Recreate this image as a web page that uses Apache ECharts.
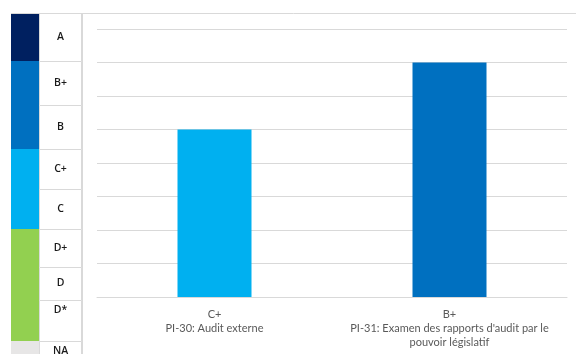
<!DOCTYPE html>
<html>
<head>
<meta charset="utf-8">
<script src="https://cdn.jsdelivr.net/npm/echarts@6/dist/echarts.min.js"></script>
<style>
  html, body { margin: 0; padding: 0; background: #ffffff; }
  #chart { width: 576px; height: 354px; }
</style>
</head>
<body>
<div id="chart"></div>
<script>
// Indicators and the grade each one received
const indicators = ['PI-30: Audit externe', "PI-31: Examen des rapports d'audit par le\npouvoir législatif"];
const grades = ['C+', 'B+'];

// Numeric score behind each grade (0.5 steps)
const gradeScores = { 'A': 4, 'B+': 3.5, 'B': 3, 'C+': 2.5, 'C': 2, 'D+': 1.5, 'D': 1 };
const scores = grades.map(g => gradeScores[g]);

// Grade key shown on the left
const keyGrades = ['A', 'B+', 'B', 'C+', 'C', 'D+', 'D', 'D*', 'NA'];
const keyRowHeights = [48, 44, 44, 40, 40, 38, 33, 41, 20];

// Value axis: 0 to 4, one gridline every half grade
const yMin = 0, yMax = 4, yStep = 0.5;

const groupColors = { A: '#002060', B: '#0070C0', C: '#00B0F0', D: '#92D050', N: '#E7E6E6' };
const colorOf = g => groupColors[g.charAt(0)];

const LABEL_FONT = 'Lato, "Open Sans", sans-serif';
const KEY_FONT = '"Open Sans", "Liberation Sans", sans-serif';
const GRID_GRAY = '#d9d9d9';

// cumulative row edges for the key
const rowEdges = [0];
keyRowHeights.forEach(h => rowEdges.push(rowEdges[rowEdges.length - 1] + h));

const chart = echarts.init(document.getElementById('chart'), null, { renderer: 'canvas' });

chart.setOption({
  animation: false,
  backgroundColor: '#ffffff',
  grid: [
    { left: 97, right: 9, top: 29, bottom: 57, containLabel: false },
    { left: 11, top: 13, width: 71, height: 341, containLabel: false }
  ],
  xAxis: [
    {
      type: 'category',
      gridIndex: 0,
      data: indicators,
      axisLine: { show: true, lineStyle: { color: GRID_GRAY, width: 1 } },
      axisTick: { show: false },
      axisLabel: {
        interval: 0,
        margin: 10,
        fontFamily: LABEL_FONT,
        fontSize: 11,
        lineHeight: 14,
        color: '#595959',
        align: 'center',
        formatter: (v, i) => grades[i] + '\n' + v
      },
      splitLine: { show: false }
    },
    { type: 'value', gridIndex: 1, min: 0, max: 71, show: false }
  ],
  yAxis: [
    {
      type: 'value',
      gridIndex: 0,
      min: yMin,
      max: yMax,
      interval: yStep,
      axisLine: { show: false },
      axisTick: { show: false },
      axisLabel: { show: false },
      splitLine: { show: true, lineStyle: { color: GRID_GRAY, width: 1 } }
    },
    { type: 'value', gridIndex: 1, min: 0, max: 341, inverse: true, show: false }
  ],
  series: [
    {
      type: 'bar',
      xAxisIndex: 0,
      yAxisIndex: 0,
      barWidth: 74,
      data: scores.map((s, i) => ({ value: s, itemStyle: { color: colorOf(grades[i]) } }))
    },
    {
      // grade key: colour column + label cells
      type: 'custom',
      xAxisIndex: 1,
      yAxisIndex: 1,
      clip: true,
      data: keyGrades.map((g, i) => [i]),
      renderItem: (params, api) => {
        const i = api.value(0);
        const g = keyGrades[i];
        const p0 = api.coord([0, rowEdges[i]]);
        const p1 = api.coord([28, rowEdges[i + 1]]);
        const p2 = api.coord([71, rowEdges[i + 1]]);
        const textY = g === 'D*' ? p0[1] + 10 : (p0[1] + p1[1]) / 2;
        return {
          type: 'group',
          children: [
            {
              type: 'rect',
              shape: { x: p0[0], y: p0[1], width: p1[0] - p0[0], height: p1[1] - p0[1] },
              style: { fill: colorOf(g) }
            },
            {
              type: 'rect',
              shape: { x: p1[0] + 0.5, y: p0[1] + 0.5, width: p2[0] - p1[0] - 1, height: p1[1] - p0[1] },
              style: { fill: '#ffffff', stroke: GRID_GRAY, lineWidth: 1 }
            },
            {
              type: 'text',
              style: {
                x: (p1[0] + p2[0]) / 2,
                y: textY,
                text: g,
                align: 'center',
                verticalAlign: 'middle',
                fontFamily: KEY_FONT,
                fontSize: 10.5,
                fontWeight: 600,
                fill: '#1a1a1a'
              }
            }
          ]
        };
      }
    }
  ],
  graphic: [
    {
      type: 'line',
      shape: { x1: 11, y1: 13.5, x2: 576, y2: 13.5 },
      style: { stroke: GRID_GRAY, lineWidth: 1 },
      z: 10
    },
    {
      type: 'line',
      shape: { x1: 82.5, y1: 13, x2: 82.5, y2: 354 },
      style: { stroke: GRID_GRAY, lineWidth: 1 },
      z: 10
    }
  ]
});
</script>
</body>
</html>
